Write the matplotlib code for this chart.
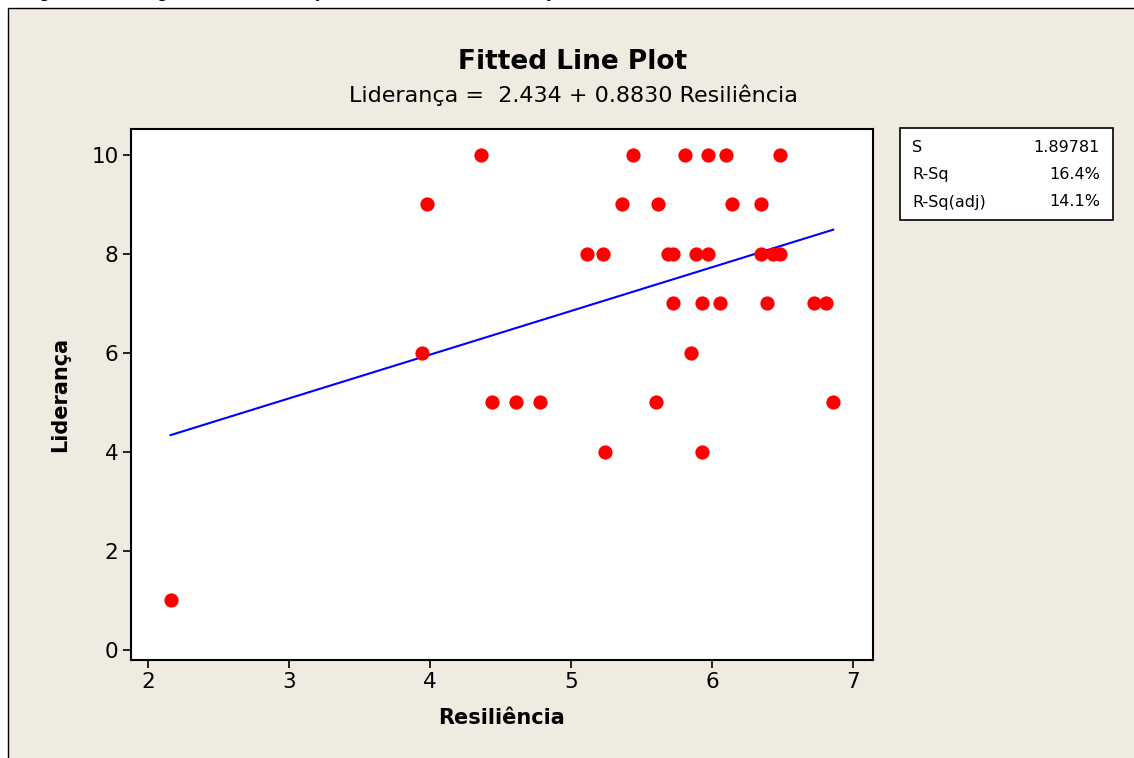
import matplotlib.pyplot as plt
import numpy as np
from matplotlib.patches import Rectangle

# Data
resiliencia = [4.36, 5.44, 5.81, 5.97, 6.10, 6.48,
               3.98, 5.36, 5.62, 6.14, 6.35,
               5.11, 5.23, 5.69, 5.72, 5.89, 5.97, 6.35, 6.43, 6.48,
               5.72, 5.93, 6.06, 6.39, 6.72, 6.81,
               3.94, 5.85,
               4.44, 4.61, 4.78, 5.60, 6.86,
               5.24, 5.93,
               2.16]
lideranca = [10, 10, 10, 10, 10, 10,
             9, 9, 9, 9, 9,
             8, 8, 8, 8, 8, 8, 8, 8, 8,
             7, 7, 7, 7, 7, 7,
             6, 6,
             5, 5, 5, 5, 5,
             4, 4,
             1]

intercept = 2.434
slope = 0.8830
stats_labels = ['S', 'R-Sq', 'R-Sq(adj)']
stats_values = ['1.89781', '16.4%', '14.1%']

W, H = 1134, 758
fig = plt.figure(figsize=(W / 100, H / 100), dpi=100, facecolor='white')
plt.rcParams['font.family'] = ['DejaVu Sans']

# beige panel with thin black border
fig.patches.append(Rectangle((8 / W, -0.05), 1.1, 1 - 8 / H + 0.05, transform=fig.transFigure,
                             facecolor='#EFEBE1', edgecolor='black', linewidth=1, zorder=-2))

# caption cut off at the top of the picture
fig.text(25 / W, 1 + 8 / H, 'Figura 10 - Diagrama de correlação (Resiliência e Liderança)',
         fontsize=13, ha='left', va='center', color='black', zorder=-1)

ax = fig.add_axes([131 / W, 1 - 660 / H, (873 - 131) / W, (660 - 129) / H])
ax.set_facecolor('white')

ax.scatter(resiliencia, lideranca, s=105, color='#FF0000', zorder=3, linewidths=0)

xs = np.array([min(resiliencia), max(resiliencia)])
ax.plot(xs, intercept + slope * xs, color='#0000FF', linewidth=1.5, zorder=2)

ax.set_xlim(1.879, 7.142)
ax.set_ylim(-0.202, 10.525)
ax.set_xticks([2, 3, 4, 5, 6, 7])
ax.set_yticks([0, 2, 4, 6, 8, 10])
ax.tick_params(direction='out', length=6, width=1.2, labelsize=15.5, pad=3)
for sp in ax.spines.values():
    sp.set_linewidth(1.5)

ax.set_xlabel('Resiliência', fontsize=15, fontweight='bold', labelpad=11)
ax.set_ylabel('Liderança', fontsize=15, fontweight='bold', labelpad=15)

fig.text(573 / W, 1 - 62 / H, 'Fitted Line Plot', fontsize=19, fontweight='bold',
         ha='center', va='center')
fig.text(573 / W, 1 - 95 / H, 'Liderança =  2.434 + 0.8830 Resiliência', fontsize=16,
         ha='center', va='center')

# statistics box
fig.patches.append(Rectangle((900 / W, 1 - 220 / H), 213 / W, 92 / H, transform=fig.transFigure,
                             facecolor='white', edgecolor='black', linewidth=1.2, zorder=1))
for i, (lab, val) in enumerate(zip(stats_labels, stats_values)):
    yy = 1 - (147 + 27.5 * i) / H
    fig.text(912 / W, yy, lab, fontsize=11.5, ha='left', va='center', zorder=2)
    fig.text(1100 / W, yy, val, fontsize=11.5, ha='right', va='center', zorder=2)

fig.savefig('out.png', dpi=100, facecolor=fig.get_facecolor())
